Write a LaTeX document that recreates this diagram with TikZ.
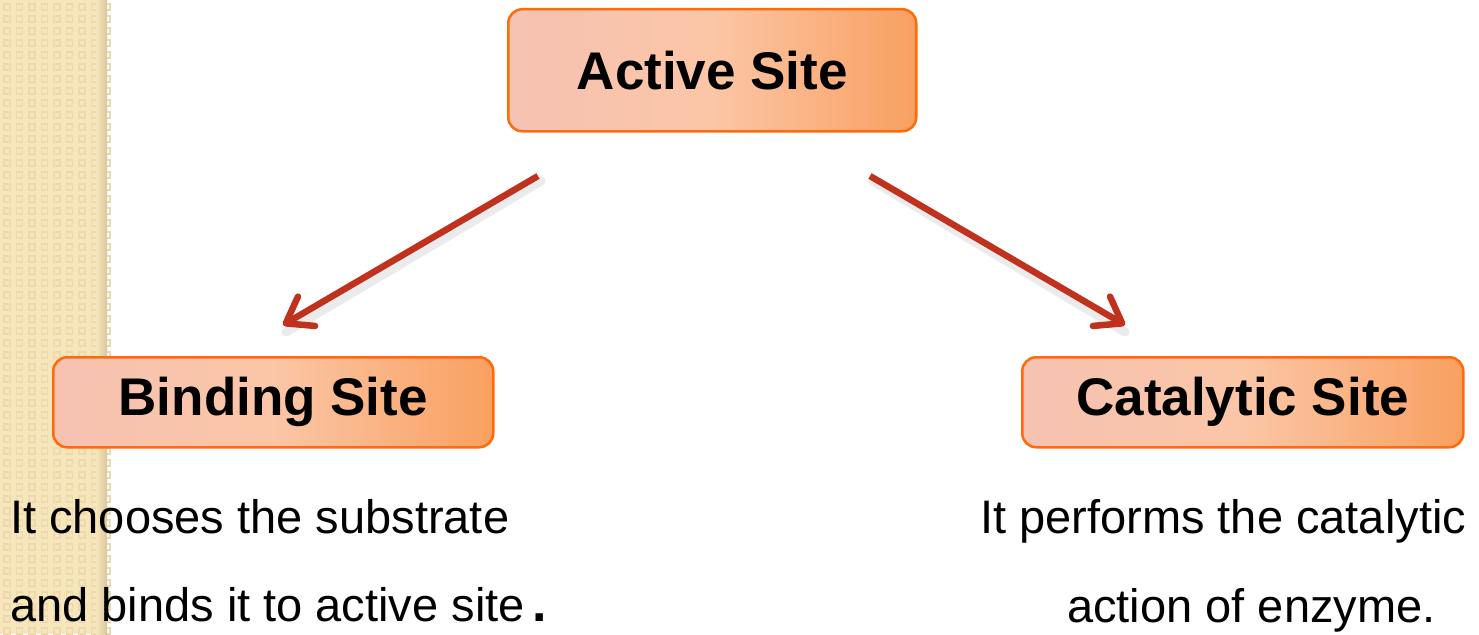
\documentclass[tikz,border=0pt]{standalone}
\usepackage{fontspec}
\setmainfont{Liberation Sans}
\usetikzlibrary{arrows.meta,shadings}
\definecolor{strip}{HTML}{F7E6BC}
\definecolor{stripdk}{HTML}{ECDAAE}
\definecolor{stripedge}{HTML}{D9C79C}
\definecolor{boxborder}{HTML}{FF6A0A}
\definecolor{boxleft}{HTML}{F6C2B2}
\definecolor{boxmid}{HTML}{FBC6A6}
\definecolor{boxright}{HTML}{F9A060}
\definecolor{arrowred}{HTML}{C0321E}
\tikzset{
  sitebox/.style={draw=boxborder, line width=2.5pt, rounded corners=14pt,
    left color=boxleft, right color=boxright, middle color=boxmid,
    font=\bfseries, inner sep=0pt, anchor=north west},
  arr/.style={draw=arrowred, line width=6.5pt,
    -{Straight Barb[length=24pt,width=34pt,round]}},
  arrshadow/.style={draw=black, opacity=0.08, line width=9pt, line cap=round},
  desc/.style={font=\fontsize{47}{47}\selectfont, anchor=base west, inner sep=0pt}
}
\begin{document}
\begin{tikzpicture}[x=1pt,y=-1pt]
\useasboundingbox (0,0) rectangle (1479,634);
\fill[white] (0,0) rectangle (1479,634);
% left strip
\fill[strip] (0,0) rectangle (107,634);
\foreach \i in {0,...,8} {
  \foreach \j in {0,...,52} {
    \draw[stripdk, line width=1.5pt] (4+\i*12.5,4+\j*12) rectangle ++(6,6);
  }
}
\shade[left color=strip, right color=stripedge] (96,0) rectangle (107,634);
% boxes
\node[sitebox, minimum width=408pt, minimum height=122pt, font=\bfseries\fontsize{53}{53}\selectfont] (active) at (507,8) {Active Site};
\node[sitebox, minimum width=440pt, minimum height=90pt, font=\bfseries\fontsize{53}{53}\selectfont] (binding) at (52,356) {Binding Site};
\node[sitebox, minimum width=441pt, minimum height=90pt, font=\bfseries\fontsize{53}{53}\selectfont] (catalytic) at (1021,356) {Catalytic Site};
% arrow coordinates
\coordinate (ls) at (538,176);
\coordinate (le) at (283,325);
\coordinate (rs) at (870,176);
\coordinate (re) at (1125,325);
\coordinate (lss) at (541,181);
\coordinate (les) at (286,332);
\coordinate (rss) at (873,181);
\coordinate (res) at (1125,332);
\draw[arrshadow] (lss) -- (les);
\draw[arrshadow] (rss) -- (res);
\draw[arr] (ls) -- (le);
\draw[arr] (rs) -- (re);
% descriptions
\node[desc] (b1) at (10,533) {It chooses the substrate};
\node[desc] (b2) at (10,621) {and binds it to active site\,{\bfseries\fontsize{52}{52}\selectfont.}};
\node[desc] (c1) at (980,533) {It performs the catalytic};
\node[desc] (c2) at (1067,622) {action of enzyme.};
\end{tikzpicture}
\end{document}
